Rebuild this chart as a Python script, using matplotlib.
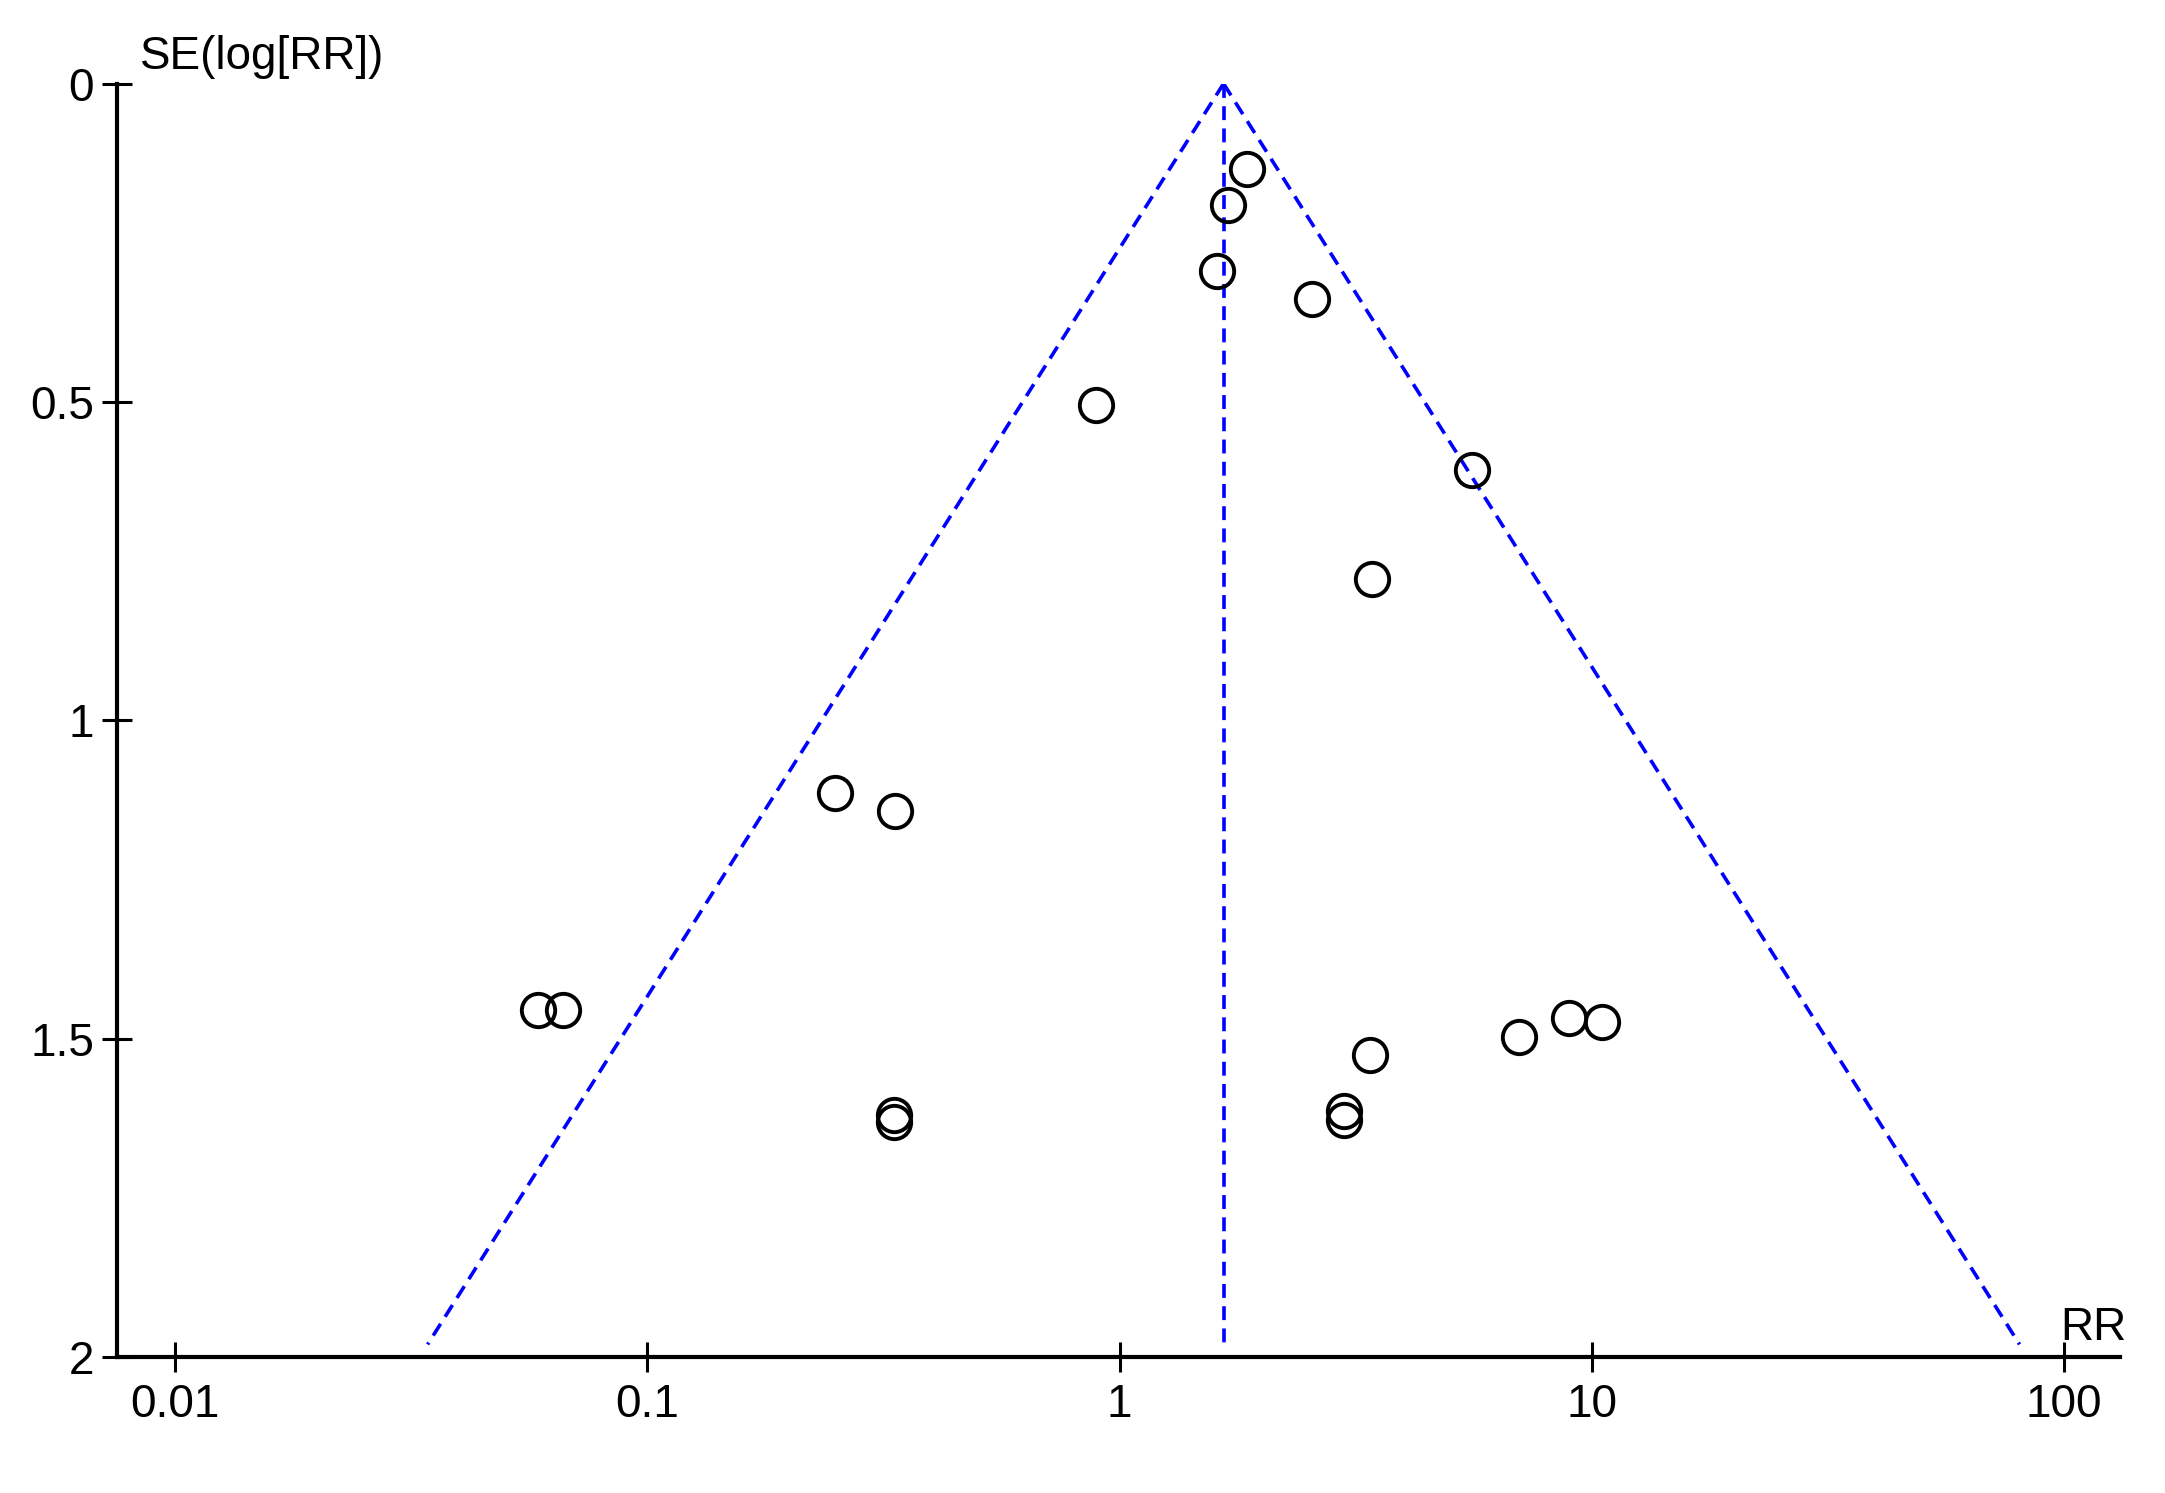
import matplotlib
matplotlib.use("Agg")
import matplotlib.pyplot as plt
import numpy as np

plt.rcParams['font.family'] = ['Liberation Sans', 'DejaVu Sans']
plt.rcParams['lines.scale_dashes'] = False

# du lieu doc tu hinh
rr = [1.86, 1.70, 1.61, 2.55, 0.89, 5.57, 3.43, 0.250, 0.334,
      0.0587, 0.0663, 3.39, 7.0, 8.96, 10.5, 0.333, 0.333, 2.99, 2.99]
se = [0.134, 0.191, 0.294, 0.339, 0.505, 0.607, 0.778, 1.114, 1.142,
      1.455, 1.455, 1.525, 1.497, 1.468, 1.473, 1.620, 1.630, 1.614, 1.627]
pooled_rr = 1.66
se_max = 1.98
x_ticks = [0.01, 0.1, 1, 10, 100]
x_tick_labels = ['0.01', '0.1', '1', '10', '100']
y_ticks = [0, 0.5, 1, 1.5, 2]
y_tick_labels = ['0', '0.5', '1', '1.5', '2']

fig = plt.figure(figsize=(21.65, 14.93), dpi=100)
ax = fig.add_axes([0.054, 0.091, 0.925, 0.853])

# duong pheu 95%
se_line = np.array([0, se_max])
blue = '#0000ff'
ax.plot(pooled_rr * np.exp(-1.96 * se_line), se_line, color=blue, lw=2.6, dashes=(10, 6))
ax.plot(pooled_rr * np.exp(1.96 * se_line), se_line, color=blue, lw=2.6, dashes=(10, 6))
ax.plot([pooled_rr, pooled_rr], se_line, color=blue, lw=2.6, dashes=(10, 6))

# cac nghien cuu
ax.plot(rr, se, 'o', ms=24, mfc='none', mec='black', mew=2.8, ls='none')

ax.set_xscale('log')
ax.set_xlim(0.00753, 131)
ax.set_ylim(2, 0)
ax.set_xticks(x_ticks)
ax.set_xticklabels(x_tick_labels)
ax.minorticks_off()
ax.set_yticks(y_ticks)
ax.set_yticklabels(y_tick_labels)

for s in ['top', 'right']:
    ax.spines[s].set_visible(False)
for s in ['left', 'bottom']:
    ax.spines[s].set_linewidth(3)

ax.tick_params(axis='both', direction='inout', length=21, width=2.2, labelsize=33)
ax.tick_params(axis='y', pad=6)
ax.tick_params(axis='x', pad=8)

fig.text(0.0647, 0.962, 'SE(log[RR])', fontsize=33, ha='left', va='center')
fig.text(0.9515, 0.1105, 'RR', fontsize=33, ha='left', va='center')

fig.savefig('out.png', dpi=100, facecolor='white')
